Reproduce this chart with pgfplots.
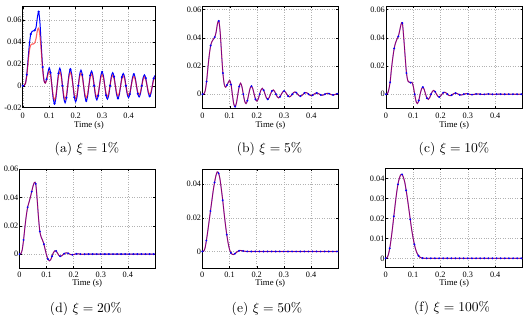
\documentclass[border=0pt]{standalone}
\usepackage{pgfplots}
\pgfplotsset{compat=1.18}
\usepackage{pgfplotstable}
\usepackage{fontspec}
\newfontfamily\tnr{Liberation Serif}

\pgfplotstableread{
t aB aR b c d e f
0.000 0 0 0 0 0 0 0
0.005 0.0002 0.0002 0.0003 0.0003 0.0003 0.0002 0.0003
0.010 0.002 0.002 0.0025 0.003 0.003 0.002 0.0018
0.015 0.010 0.009 0.009 0.0085 0.010 0.0065 0.005
0.020 0.024 0.021 0.019 0.018 0.019 0.012 0.0095
0.025 0.038 0.032 0.028 0.026 0.027 0.018 0.015
0.030 0.047 0.037 0.0345 0.0325 0.033 0.024 0.021
0.035 0.0495 0.038 0.0375 0.0365 0.0365 0.030 0.027
0.040 0.050 0.038 0.039 0.039 0.040 0.036 0.0325
0.045 0.0505 0.039 0.0405 0.041 0.044 0.041 0.037
0.050 0.053 0.043 0.044 0.045 0.048 0.045 0.040
0.055 0.062 0.050 0.050 0.0495 0.0505 0.0473 0.0418
0.060 0.0675 0.0525 0.052 0.0505 0.0495 0.0465 0.042
0.065 0.057 0.045 0.044 0.040 0.039 0.043 0.0405
0.070 0.036 0.031 0.029 0.027 0.026 0.037 0.038
0.075 0.017 0.015 0.015 0.015 0.016 0.0305 0.034
0.080 0.005 0.005 0.007 0.0095 0.012 0.023 0.0295
0.085 0.0025 0.0025 0.005 0.0085 0.0098 0.016 0.0245
0.090 0.006 0.005 0.0065 0.0082 0.007 0.010 0.0195
0.095 0.012 0.010 0.0085 0.0085 0.003 0.005 0.0145
0.100 0.0163 0.013 0.0098 0.0055 -0.0008 0.0013 0.0105
0.105 0.0118 0.0094 0.0068 0 -0.0035 -0.0008 0.007
0.110 0 0 -0.0005 -0.005 -0.0047 -0.0017 0.0043
0.115 -0.0116 -0.0093 -0.007 -0.0066 -0.004 -0.0018 0.0025
0.120 -0.0163 -0.013 -0.0088 -0.0045 -0.0015 -0.0013 0.0013
0.125 -0.0115 -0.0092 -0.006 0 0.001 -0.0006 0.0006
0.130 0 0 0 0.0036 0.0023 0 0.00025
0.135 0.0113 0.009 0.0055 0.005 0.0022 0.0004 0.0001
0.140 0.016 0.0128 0.0078 0.00327 0.0008 0.0006 0
0.145 0.01123 0.00898 0.0053 0 -0.0008 0.0005 0
0.150 0 0 0 -0.00279 -0.0015 0.0003 0
0.155 -0.01106 -0.00885 -0.0049 -0.00365 -0.0013 0.00015 0
0.160 -0.01553 -0.01242 -0.00667 -0.00239 -0.0005 0.00005 0
0.165 -0.0109 -0.00872 -0.00453 0 0.0003 0 0
0.170 0 0 0 0.00204 0.0008 0 0
0.175 0.01074 0.00859 0.00419 0.00267 0.0009 0 0
0.180 0.01507 0.01206 0.0057 0.00175 0.0005 0 0
0.185 0.01058 0.00846 0.00387 0 0 0 0
0.190 0 0 0 -0.00149 -0.00035 0 0
0.195 -0.01042 -0.00834 -0.00358 -0.00195 -0.00045 0 0
0.200 -0.01462 -0.0117 -0.00487 -0.00127 -0.0003 0 0
0.205 -0.01026 -0.00821 -0.00331 0 0 0 0
0.210 0 0 0 0.00109 0.00015 0 0
0.215 0.01011 0.00809 0.00306 0.00143 0.0002 0 0
0.220 0.01419 0.01135 0.00416 0.00093 0.00015 0 0
0.225 0.00996 0.00797 0.00283 0 0 0 0
0.230 0 0 0 -0.0008 -0.00008 0 0
0.235 -0.00981 -0.00785 -0.00262 -0.00104 -0.0001 0 0
0.240 -0.01377 -0.01102 -0.00356 -0.00068 -0.00005 0 0
0.245 -0.00966 -0.00773 -0.00242 0 0 0 0
0.250 0 0 0 0.00058 0 0 0
0.255 0.00952 0.00762 0.00223 0.00076 0 0 0
0.260 0.01337 0.0107 0.00304 0.0005 0 0 0
0.265 0.00938 0.0075 0.00206 0 0 0 0
0.270 0 0 0 -0.00042 0 0 0
0.275 -0.00924 -0.00739 -0.00191 -0.00056 0 0 0
0.280 -0.01297 -0.01038 -0.0026 -0.00036 0 0 0
0.285 -0.0091 -0.00728 -0.00177 0 0 0 0
0.290 0 0 0 0.00031 0 0 0
0.295 0.00897 0.00718 0.00163 0.00041 0 0 0
0.300 0.01259 0.01007 0.00222 0.00026 0 0 0
0.305 0.00884 0.00707 0.00151 0 0 0 0
0.310 0 0 0 -0.00022 0 0 0
0.315 -0.00871 -0.00697 -0.00139 -0.0003 0 0 0
0.320 -0.01222 -0.00978 -0.0019 -0.00019 0 0 0
0.325 -0.00858 -0.00686 -0.00129 0 0 0 0
0.330 0 0 0 0.00016 0 0 0
0.335 0.00845 0.00676 0.00119 0.00022 0 0 0
0.340 0.01186 0.00949 0.00162 0.00014 0 0 0
0.345 0.00832 0.00666 0.0011 0 0 0 0
0.350 0 0 0 -0.00012 0 0 0
0.355 -0.0082 -0.00656 -0.00102 -0.00016 0 0 0
0.360 -0.01151 -0.00921 -0.00139 -0.0001 0 0 0
0.365 -0.00808 -0.00646 -0.00094 0 0 0 0
0.370 0 0 0 0.00008 0 0 0
0.375 0.00795 0.00636 0.00087 0.00011 0 0 0
0.380 0.01117 0.00894 0.00119 0.00008 0 0 0
0.385 0.00784 0.00627 0.00081 0 0 0 0
0.390 0 0 0 -0.00006 0 0 0
0.395 -0.00772 -0.00618 -0.00074 -0.00009 0 0 0
0.400 -0.01084 -0.00867 -0.00101 -0.00006 0 0 0
0.405 -0.00761 -0.00609 -0.00069 0 0 0 0
0.410 0 0 0 0.00005 0 0 0
0.415 0.00749 0.00599 0.00064 0.00006 0 0 0
0.420 0.01052 0.00842 0.00087 0.00004 0 0 0
0.425 0.00738 0.0059 0.00059 0 0 0 0
0.430 0 0 0 -0.00003 0 0 0
0.435 -0.00727 -0.00582 -0.00054 -0.00004 0 0 0
0.440 -0.01021 -0.00817 -0.00074 -0.00003 0 0 0
0.445 -0.00717 -0.00574 -0.0005 0 0 0 0
0.450 0 0 0 0.00002 0 0 0
0.455 0.00706 0.00565 0.00047 0.00003 0 0 0
0.460 0.00991 0.00793 0.00063 0.00002 0 0 0
0.465 0.00696 0.00557 0.00043 0 0 0 0
0.470 0 0 0 -0.00002 0 0 0
0.475 -0.00685 -0.00548 -0.0004 -0.00002 0 0 0
0.480 -0.00962 -0.0077 -0.00054 -0.00001 0 0 0
0.485 -0.00675 -0.0054 -0.00037 0 0 0 0
0.490 0 0 0 0.00001 0 0 0
0.495 0.00665 0.00532 0.00034 0.00001 0 0 0
0.500 0.00934 0.00747 0.00046 0.00001 0 0 0
}\datatab

\pgfplotsset{
  panel/.style={
    scale only axis,
    anchor=south west,
    xmin=0, xmax=0.5,
    scaled x ticks=false, scaled y ticks=false,
    xtick={0,0.1,0.2,0.3,0.4},
    xticklabels={0,0.1,0.2,0.3,0.4},
    grid=major,
    major grid style={dotted, black!30, line width=0.45bp},
    tick align=inside,
    major tick length=2bp,
    tick style={black, line width=0.4bp},
    axis line style={black, line width=0.65bp},
    ticklabel style={font=\tnr\fontsize{8.3}{9}\selectfont, inner sep=1bp},
    xlabel={Time (s)},
    label style={font=\tnr\fontsize{8.8}{10}\selectfont},
  },
  row1/.style={
    xticklabel style={yshift=-3.8bp},
    xlabel style={at={(axis description cs:0.5,0)}, anchor=center, yshift=-17.3bp},
  },
  row2/.style={
    xticklabel style={yshift=-3.0bp},
    xlabel style={at={(axis description cs:0.5,0)}, anchor=center, yshift=-15.3bp},
  },
  blueS/.style={blue, line width=0.8bp, smooth, tension=0.5, mark=*, mark size=0.5bp,
    mark repeat=3, mark options={solid, fill=blue!45!black, draw=none}},
  redS/.style={red, line width=1.1bp, smooth, tension=0.5, opacity=0.5, no marks},
}

\begin{document}
\begin{tikzpicture}
\path[use as bounding box] (0,0) rectangle (525bp,315bp);

% (a)
\begin{axis}[panel, row1, at={(22.8bp,207.3bp)}, width=132.2bp, height=101bp,
  ymin=-0.02, ymax=0.072, ytick={-0.02,0,0.02,0.04,0.06},
  yticklabels={-0.02,0,0.02,0.04,0.06}]
\addplot[blueS, line width=1.0bp] table[x=t,y=aB]{\datatab};
\addplot[redS, opacity=0.6] table[x=t,y=aR]{\datatab};
\end{axis}

% (b)
\begin{axis}[panel, row1, at={(202.5bp,206.7bp)}, width=136bp, height=102bp,
  ymin=-0.01, ymax=0.0624, ytick={0,0.02,0.04,0.06},
  yticklabels={0,0.02,0.04,0.06}]
\addplot[blueS] table[x=t,y=b]{\datatab};
\addplot[redS] table[x=t,y=b]{\datatab};
\end{axis}

% (c)
\begin{axis}[panel, row1, at={(386bp,206.7bp)}, width=136.5bp, height=102bp,
  ymin=-0.01, ymax=0.0624, ytick={0,0.02,0.04,0.06},
  yticklabels={0,0.02,0.04,0.06}]
\addplot[blueS] table[x=t,y=c]{\datatab};
\addplot[redS] table[x=t,y=c]{\datatab};
\end{axis}

% (d)
\begin{axis}[panel, row2, at={(19.5bp,46.7bp)}, width=135.5bp, height=99.3bp,
  ymin=-0.01, ymax=0.06, ytick={0,0.02,0.04,0.06},
  yticklabels={0,0.02,0.04,0.06}]
\addplot[blueS] table[x=t,y=d]{\datatab};
\addplot[redS] table[x=t,y=d]{\datatab};
\end{axis}

% (e)
\begin{axis}[panel, row2, at={(202.3bp,46.7bp)}, width=136bp, height=99.3bp,
  ymin=-0.01, ymax=0.049, ytick={0,0.02,0.04},
  yticklabels={0,0.02,0.04}]
\addplot[blueS] table[x=t,y=e]{\datatab};
\addplot[redS] table[x=t,y=e]{\datatab};
\end{axis}

% (f)
\begin{axis}[panel, row2, at={(385.6bp,47.3bp)}, width=137bp, height=99.3bp,
  ymin=-0.0047, ymax=0.045, ytick={0,0.01,0.02,0.03,0.04},
  yticklabels={0,0.01,0.02,0.03,0.04}]
\addplot[blueS] table[x=t,y=f]{\datatab};
\addplot[redS] table[x=t,y=f]{\datatab};
\end{axis}

% captions
\node[scale=1.36] at (87bp,166bp) {(a) $\xi = 1\%$};
\node[scale=1.36] at (269.5bp,166bp) {(b) $\xi = 5\%$};
\node[scale=1.36] at (454bp,166bp) {(c) $\xi = 10\%$};
\node[scale=1.36] at (86bp,6.3bp) {(d) $\xi = 20\%$};
\node[scale=1.36] at (267bp,6.3bp) {(e) $\xi = 50\%$};
\node[scale=1.36] at (452bp,7bp) {(f) $\xi = 100\%$};
\end{tikzpicture}
\end{document}
